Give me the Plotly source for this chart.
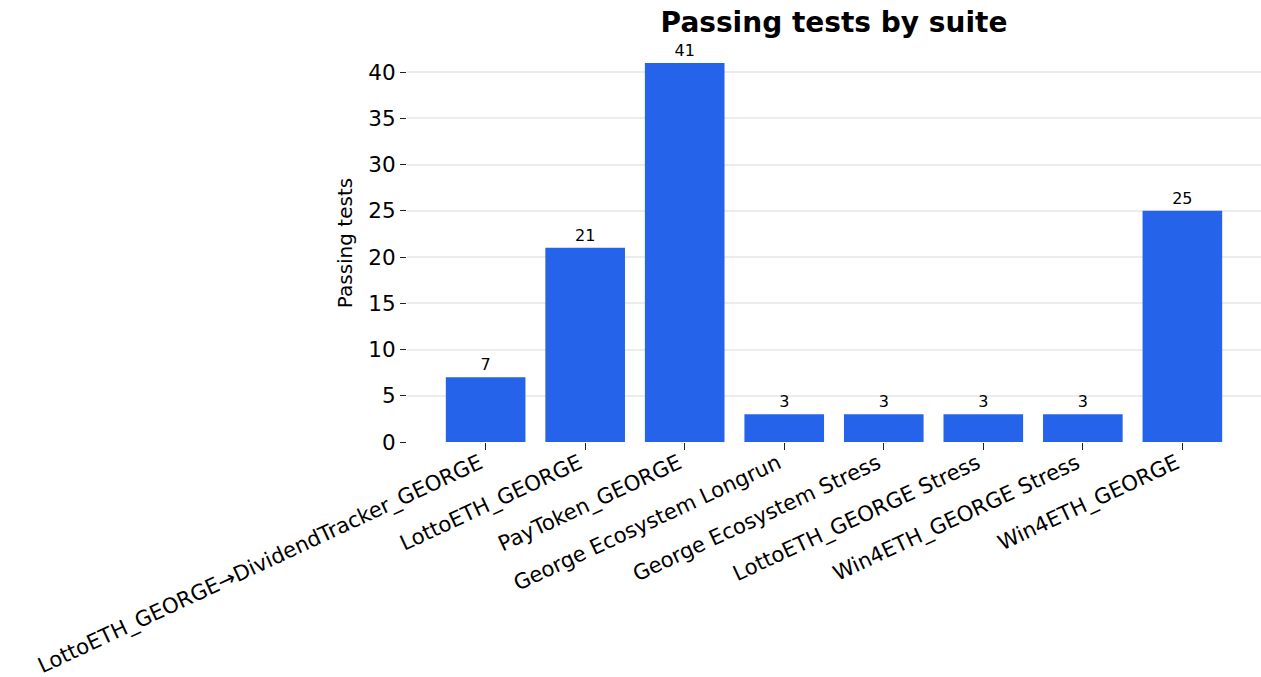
import plotly.graph_objects as go

suites = [
    "LottoETH_GEORGE→DividendTracker_GEORGE",
    "LottoETH_GEORGE",
    "PayToken_GEORGE",
    "George Ecosystem Longrun",
    "George Ecosystem Stress",
    "LottoETH_GEORGE Stress",
    "Win4ETH_GEORGE Stress",
    "Win4ETH_GEORGE",
]
passing = [7, 21, 41, 3, 3, 3, 3, 25]

FONT = "DejaVu Sans"
x_pos = list(range(len(suites)))

fig = go.Figure(
    go.Bar(
        x=x_pos,
        y=passing,
        width=0.8,
        marker=dict(color="#2563EB", line=dict(width=0)),
        text=[str(v) for v in passing],
        textposition="outside",
        textfont=dict(family=FONT, size=16, color="black"),
        cliponaxis=False,
    )
)

fig.update_layout(
    width=1261,
    height=677,
    margin=dict(l=407, r=0, t=44, b=235),
    paper_bgcolor="white",
    plot_bgcolor="white",
    font=dict(family=FONT, color="black"),
    showlegend=False,
    title=dict(
        text="<b>Passing tests by suite</b>",
        font=dict(family=FONT, size=28, color="black"),
        x=(407 + 1261) / 2 / 1261,
        xanchor="center",
        y=1 - 22 / 677,
        yanchor="middle",
    ),
)

fig.update_xaxes(
    range=[-0.79, 7.79],
    tickmode="array",
    tickvals=x_pos,
    ticktext=suites,
    tickangle=-25,
    ticks="outside",
    ticklen=7,
    tickwidth=1,
    tickcolor="#222",
    tickfont=dict(family=FONT, size=21.2),
    ticklabelshift=-6,
    ticklabelstandoff=-7,
    showgrid=False,
    showline=False,
    zeroline=False,
    automargin=False,
)

fig.update_yaxes(
    range=[0, 43.05],
    tickmode="array",
    tickvals=list(range(0, 41, 5)),
    ticks="outside",
    ticklen=6,
    tickwidth=1,
    tickcolor="#222",
    tickfont=dict(family=FONT, size=21.5),
    showgrid=True,
    gridcolor="rgba(200,200,200,0.35)",
    gridwidth=1.5,
    layer="above traces",
    showline=False,
    zeroline=False,
    automargin=False,
    title=dict(text="Passing tests", font=dict(family=FONT, size=20), standoff=10),
)

fig.write_html("out.html")
